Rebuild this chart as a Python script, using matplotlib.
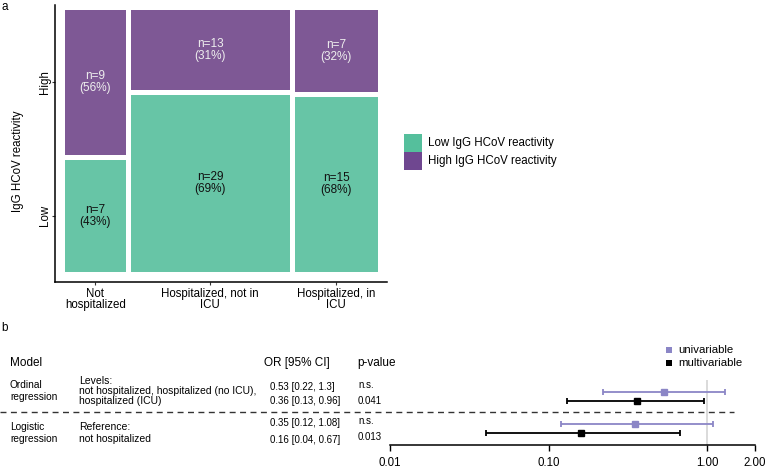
import numpy as np
import matplotlib
matplotlib.use('Agg')
import matplotlib.pyplot as plt
from matplotlib.patches import Rectangle
from matplotlib import transforms

plt.rcParams['font.family'] = ['Liberation Sans', 'DejaVu Sans']

# ---- panel a: mosaic of hospitalisation vs IgG HCoV reactivity
groups = ['Not\nhospitalized', 'Hospitalized, not in\nICU', 'Hospitalized, in\nICU']
n_low = [7, 29, 15]
n_high = [9, 13, 7]
pct_low = [43, 69, 68]
pct_high = [56, 31, 32]
levels = ['Low', 'High']
legend_labels = ['Low IgG HCoV reactivity', 'High IgG HCoV reactivity']

# ---- panel b: odds ratios (rows: ordinal, logistic; cols: uni, multi)
models = ['Ordinal\nregression', 'Logistic\nregression']
model_notes = ['Levels:\nnot hospitalized, hospitalized (no ICU),\nhospitalized (ICU)',
               'Reference:\nnot hospitalized']
series = ['univariable', 'multivariable']
or_est = np.array([[0.53, 0.36], [0.35, 0.16]])
ci_low = np.array([[0.22, 0.13], [0.12, 0.04]])
ci_high = np.array([[1.3, 0.96], [1.08, 0.67]])
or_text = [['0.53 [0.22, 1.3]', '0.36 [0.13, 0.96]'],
           ['0.35 [0.12, 1.08]', '0.16 [0.04, 0.67]']]
p_text = [['n.s.', '0.041'], ['n.s.', '0.013']]
x_ticks = [0.01, 0.1, 1, 2]
x_ticklabels = ['0.01', '0.10', '1.00', '2.00']

W, H = 766, 470
green, purple = '#67C5A6', '#7E5895'
green_leg, purple_leg = '#55BF9C', '#6F4790'
series_colors = ['#8B86C6', 'black']


def fx(px):
    return px / W


def fy(py):
    return 1 - py / H


fig = plt.figure(figsize=(W / 100, H / 100), dpi=100)

# ---------------- panel a
ax = fig.add_axes([fx(55), fy(282), (387 - 55) / W, (282 - 5) / H])
gx, gy = 0.016, 0.019
total = sum(n_low) + sum(n_high)
x0 = 0.0
centers = []
first_col = None
for i in range(len(groups)):
    n = n_low[i] + n_high[i]
    w = n / total * (1 - gx * (len(groups) - 1))
    h_lo = n_low[i] / n * (1 - gy)
    h_hi = n_high[i] / n * (1 - gy)
    ax.bar(x0, h_lo, width=w, align='edge', color=green, linewidth=0)
    ax.bar(x0, h_hi, bottom=h_lo + gy, width=w, align='edge', color=purple, linewidth=0)
    ax.text(x0 + w / 2, h_lo / 2, f'n={n_low[i]}\n({pct_low[i]}%)', ha='center',
            va='center', fontsize=8.5, color='#111111', linespacing=1.0)
    ax.text(x0 + w / 2, h_lo + gy + h_hi / 2, f'n={n_high[i]}\n({pct_high[i]}%)',
            ha='center', va='center', fontsize=8.5, color='#eeeeee', linespacing=1.0)
    if first_col is None:
        first_col = [h_lo / 2, h_lo + gy + h_hi / 2]
    centers.append(x0 + w / 2)
    x0 += w + gx

ax.set_xlim(-0.032, 1.029)
ax.set_ylim(-0.038, 1.019)
for s in ['top', 'right']:
    ax.spines[s].set_visible(False)
for s in ['left', 'bottom']:
    ax.spines[s].set_linewidth(1.1)
ax.set_xticks(centers)
ax.set_xticklabels(groups, fontsize=8.3, linespacing=0.95)
ax.set_yticks(first_col)
ax.set_yticklabels(levels, fontsize=8.3, rotation=90, va='center')
ax.tick_params(length=2.2, width=0.8, colors='#333333', labelcolor='black')
ax.tick_params(axis='x', pad=2)
ax.tick_params(axis='y', pad=0.5)
ax.set_ylabel('IgG HCoV reactivity', fontsize=8.3)
ax.yaxis.set_label_coords(-0.093, 0.437)

# legend a
for k, (lab, col) in enumerate(zip(legend_labels, [green_leg, purple_leg])):
    top = 134 + 18 * k
    fig.add_artist(Rectangle((fx(404), fy(top + 18)), 18 / W, 18 / H,
                             transform=fig.transFigure, color=col, linewidth=0))
    fig.text(fx(428), fy(top + 9), lab, fontsize=8.3, va='center')

fig.text(fx(1), fy(7), 'a', fontsize=8.5, va='center')
fig.text(fx(1), fy(328), 'b', fontsize=8.5, va='center')

# ---------------- panel b: table
fig.text(fx(10), fy(362.7), 'Model', fontsize=8.5, va='center')
fig.text(fx(264), fy(362.7), 'OR [95% CI]', fontsize=8.5, va='center')
fig.text(fx(357), fy(362.7), 'p-value', fontsize=8.5, va='center')

model_y = [391, 433]
note_y = [391, 433]
note_spacing = [0.95, 1.2]
row_y = [[387.5, 401.5], [422.5, 440]]
p_y = [[385.5, 400.5], [421.5, 437.5]]
for g in range(len(models)):
    fig.text(fx(10), fy(model_y[g]), models[g], fontsize=7.3, va='center',
             linespacing=1.2)
    fig.text(fx(79), fy(note_y[g]), model_notes[g], fontsize=7.5, va='center',
             linespacing=note_spacing[g])
    for s in range(len(series)):
        fig.text(fx(270), fy(row_y[g][s]), or_text[g][s], fontsize=7.0, va='center')
        fig.text(fx(358), fy(p_y[g][s]), p_text[g][s], fontsize=7.0, va='center')

# ---------------- panel b: forest
axb = fig.add_axes([fx(390), fy(444.5), (755 - 390) / W, (444.5 - 380) / H])
axb.set_xscale('log')
axb.set_xlim(0.01, 2)
axb.set_ylim(1.506, -0.51)
offsets = [-0.146, 0.146]
axb.axvline(1, color='#d4d4d4', lw=1.2, zorder=0)
for s in range(len(series)):
    y = np.arange(len(models)) + offsets[s]
    xerr = [or_est[:, s] - ci_low[:, s], ci_high[:, s] - or_est[:, s]]
    axb.errorbar(or_est[:, s], y, xerr=xerr, fmt='s', color=series_colors[s],
                 ms=4, capsize=2, elinewidth=1.3, capthick=1.3, clip_on=False)

blend = transforms.blended_transform_factory(fig.transFigure, axb.transData)
axb.plot([0, fx(734)], [0.5, 0.5], transform=blend, clip_on=False,
         color='#333333', lw=1.0, dashes=(4.3, 3.2))

for s in ['top', 'right', 'left']:
    axb.spines[s].set_visible(False)
axb.spines['bottom'].set_linewidth(1.1)
axb.set_yticks([])
axb.set_xticks(x_ticks)
axb.set_xticklabels(x_ticklabels, fontsize=8.3)
axb.xaxis.set_minor_locator(matplotlib.ticker.NullLocator())
axb.tick_params(axis='x', length=4.2, width=1.0, pad=4.5)

# legend b
for k, (lab, col) in enumerate(zip(series, series_colors)):
    cy = 350 + 13 * k
    fig.add_artist(Rectangle((fx(666), fy(cy + 3)), 6 / W, 6 / H,
                             transform=fig.transFigure, color=col, linewidth=0))
    fig.text(fx(678), fy(cy), lab, fontsize=8.2, va='center')

fig.savefig('out.png', dpi=100)
